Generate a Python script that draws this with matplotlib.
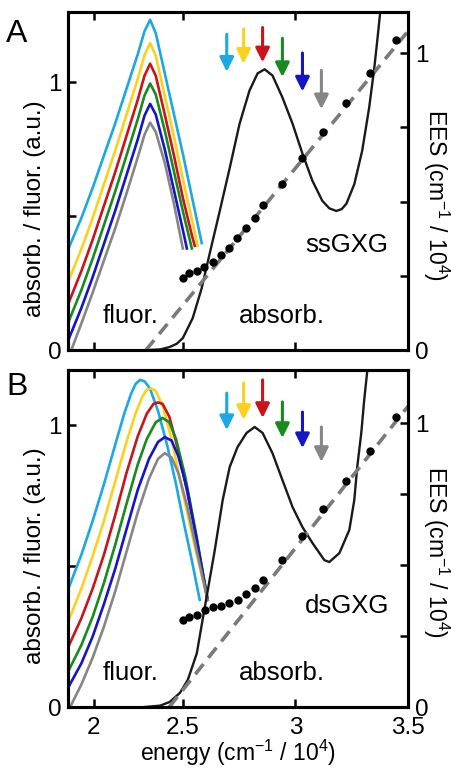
import matplotlib
matplotlib.use('Agg')
import matplotlib.pyplot as plt

plt.rcParams['font.family'] = ['Liberation Sans', 'DejaVu Sans']
plt.rcParams['mathtext.fontset'] = 'custom'
plt.rcParams['mathtext.rm'] = 'Liberation Sans'
plt.rcParams['mathtext.it'] = 'Liberation Sans:italic'

# excitation colours, in the order of the arrows (low -> high excitation energy)
series_colors = ['#1ba8e4', '#fbd11c', '#c8141a', '#198a1e', '#1515c8', '#868686']

# ---------------- panel A : ssGXG ----------------
fluorA_E = [
    [1.99, 2.05, 2.10, 2.15, 2.20, 2.25, 2.30, 2.33, 2.355, 2.38, 2.42, 2.46, 2.50, 2.54, 2.584],
    [1.99, 2.05, 2.10, 2.15, 2.20, 2.25, 2.30, 2.33, 2.355, 2.38, 2.42, 2.46, 2.50, 2.54, 2.566],
    [1.99, 2.05, 2.10, 2.15, 2.20, 2.25, 2.30, 2.33, 2.355, 2.38, 2.42, 2.46, 2.50, 2.54, 2.553],
    [1.99, 2.05, 2.10, 2.15, 2.20, 2.25, 2.30, 2.33, 2.355, 2.38, 2.42, 2.46, 2.50, 2.54],
    [1.99, 2.05, 2.10, 2.15, 2.20, 2.25, 2.30, 2.33, 2.355, 2.38, 2.42, 2.46, 2.50, 2.518],
    [2.005, 2.05, 2.10, 2.15, 2.20, 2.25, 2.30, 2.33, 2.355, 2.38, 2.42, 2.46, 2.50],
]
fluorA_I = [
    [0.374, 0.494, 0.606, 0.727, 0.847, 0.976, 1.105, 1.191, 1.234, 1.184, 1.034, 0.884, 0.734, 0.575, 0.40],
    [0.253, 0.378, 0.494, 0.620, 0.745, 0.879, 1.013, 1.102, 1.147, 1.100, 0.950, 0.800, 0.640, 0.490, 0.39],
    [0.170, 0.296, 0.413, 0.539, 0.665, 0.800, 0.935, 1.025, 1.070, 1.025, 0.880, 0.730, 0.570, 0.430, 0.39],
    [0.100, 0.225, 0.342, 0.467, 0.593, 0.727, 0.862, 0.951, 0.996, 0.955, 0.820, 0.670, 0.520, 0.380],
    [0.034, 0.158, 0.273, 0.397, 0.521, 0.654, 0.787, 0.876, 0.920, 0.880, 0.750, 0.600, 0.450, 0.380],
    [0.000, 0.100, 0.215, 0.335, 0.455, 0.585, 0.720, 0.805, 0.850, 0.815, 0.700, 0.550, 0.380],
]
absA_E = [2.33, 2.40, 2.442, 2.473, 2.50, 2.544, 2.584, 2.619, 2.664, 2.708, 2.752, 2.796,
          2.832, 2.863, 2.898, 2.942, 2.987, 3.031, 3.075, 3.119, 3.150, 3.181, 3.205,
          3.226, 3.261, 3.296, 3.327, 3.350, 3.363, 3.376]
absA_I = [0.0, 0.003, 0.012, 0.024, 0.045, 0.12, 0.232, 0.36, 0.52, 0.68, 0.846, 0.97,
          1.034, 1.049, 1.026, 0.944, 0.846, 0.734, 0.633, 0.558, 0.530, 0.520, 0.527,
          0.547, 0.62, 0.745, 0.906, 1.056, 1.157, 1.262]
eesA_E = [2.50, 2.527, 2.562, 2.593, 2.633, 2.668, 2.704, 2.739, 2.779, 2.819, 2.858,
          2.942, 3.031, 3.124, 3.226, 3.332, 3.447]
eesA_V = [0.242, 0.259, 0.266, 0.279, 0.296, 0.320, 0.343, 0.377, 0.411, 0.444, 0.488,
          0.559, 0.646, 0.734, 0.832, 0.933, 1.044]
fitA_E = [2.336, 3.50]
fitA_V = [0.0, 1.074]
arrowA_tail = [1.18, 1.20, 1.205, 1.165, 1.11, 1.045]
arrowA_tip = [1.04, 1.07, 1.075, 1.02, 0.966, 0.90]

# ---------------- panel B : dsGXG ----------------
fluorB_E = [
    [1.99, 2.05, 2.10, 2.15, 2.20, 2.24, 2.27, 2.29, 2.31, 2.33, 2.354, 2.39, 2.43, 2.47, 2.50, 2.54, 2.575],
    [1.99, 2.05, 2.10, 2.15, 2.20, 2.25, 2.29, 2.32, 2.34, 2.36, 2.38, 2.41, 2.45, 2.50, 2.55, 2.61],
    [1.99, 2.05, 2.10, 2.15, 2.20, 2.25, 2.30, 2.34, 2.37, 2.39, 2.41, 2.44, 2.48, 2.52, 2.56, 2.61],
    [1.99, 2.05, 2.10, 2.15, 2.20, 2.25, 2.30, 2.34, 2.38, 2.41, 2.44, 2.47, 2.51, 2.56, 2.61],
    [1.99, 2.05, 2.10, 2.15, 2.20, 2.25, 2.30, 2.35, 2.39, 2.42, 2.45, 2.48, 2.52, 2.56, 2.61],
    [2.00, 2.05, 2.10, 2.15, 2.20, 2.25, 2.30, 2.35, 2.39, 2.42, 2.45, 2.48, 2.52, 2.56, 2.61],
]
fluorB_I = [
    [0.415, 0.54, 0.66, 0.79, 0.93, 1.04, 1.11, 1.145, 1.16, 1.155, 1.13, 1.05, 0.93, 0.79, 0.67, 0.52, 0.38],
    [0.30, 0.42, 0.535, 0.66, 0.80, 0.94, 1.04, 1.10, 1.125, 1.13, 1.12, 1.07, 0.95, 0.76, 0.58, 0.38],
    [0.21, 0.315, 0.42, 0.54, 0.68, 0.83, 0.96, 1.04, 1.075, 1.08, 1.075, 1.03, 0.91, 0.76, 0.60, 0.38],
    [0.124, 0.22, 0.32, 0.44, 0.575, 0.72, 0.86, 0.95, 1.01, 1.025, 1.01, 0.95, 0.82, 0.61, 0.38],
    [0.067, 0.155, 0.25, 0.365, 0.49, 0.63, 0.77, 0.88, 0.94, 0.957, 0.945, 0.89, 0.77, 0.60, 0.38],
    [0.0, 0.08, 0.175, 0.285, 0.41, 0.55, 0.69, 0.81, 0.88, 0.90, 0.885, 0.83, 0.71, 0.56, 0.38],
]
absB_E = [2.33, 2.40, 2.442, 2.487, 2.522, 2.562, 2.588, 2.611, 2.642, 2.677, 2.708, 2.743,
          2.783, 2.819, 2.854, 2.898, 2.942, 2.987, 3.031, 3.075, 3.128, 3.150, 3.195,
          3.239, 3.261, 3.274, 3.292, 3.305, 3.319]
absB_I = [0.0, 0.005, 0.018, 0.05, 0.096, 0.19, 0.31, 0.415, 0.557, 0.734, 0.851, 0.922,
          0.972, 0.993, 0.972, 0.90, 0.805, 0.709, 0.638, 0.582, 0.521, 0.514, 0.546,
          0.628, 0.734, 0.851, 0.972, 1.089, 1.195]
eesB_E = [2.50, 2.527, 2.562, 2.597, 2.633, 2.668, 2.704, 2.743, 2.779, 2.819, 2.858,
          2.942, 3.031, 3.124, 3.226, 3.332, 3.447]
eesB_V = [0.306, 0.317, 0.324, 0.342, 0.352, 0.356, 0.366, 0.377, 0.398, 0.419, 0.447,
          0.518, 0.602, 0.697, 0.796, 0.901, 1.021]
fitB_E = [2.44, 3.50]
fitB_V = [0.0, 1.06]
arrowB_tail = [1.113, 1.149, 1.16, 1.082, 1.046, 0.993]
arrowB_tip = [0.982, 1.018, 1.025, 0.954, 0.918, 0.869]

# excitation energies marked by the arrows
arrow_E = [2.695, 2.770, 2.854, 2.942, 3.031, 3.115]

# axis ticks
x_ticks = [2.105, 2.5, 3.0, 3.5]
x_ticklabels = ['2', '2.5', '3', '3.5']
xlim = (1.991, 3.496)

FS = 17.5
ees_label = 'EES (cm$^{-1}$ / 10$^{4}$)'


def draw_panel(ax, fl_E, fl_I, ab_E, ab_I, ees_E, ees_V, fit_E, fit_V,
               a_tail, a_tip, ylim_l, ylim_r, name, name_y, letter, letter_y,
               ylab_y, show_xlabels):
    for E, I, c in zip(fl_E, fl_I, series_colors):
        ax.plot(E, I, color=c, lw=1.9, solid_joinstyle='round', zorder=3)
    ax.plot(ab_E, ab_I, color='#1a1a1a', lw=1.7, solid_joinstyle='round', zorder=4)
    for E, t0, t1, c in zip(arrow_E, a_tail, a_tip, series_colors):
        ax.annotate('', xy=(E, t1), xytext=(E, t0),
                    arrowprops=dict(arrowstyle='-|>,head_length=0.85,head_width=0.42',
                                    mutation_scale=10, lw=2.2, color=c,
                                    shrinkA=0, shrinkB=0), zorder=5)
    ax.set_xlim(*xlim)
    ax.set_ylim(*ylim_l)
    ax.set_xticks(x_ticks)
    if show_xlabels:
        ax.set_xticklabels(x_ticklabels)
    else:
        ax.set_xticklabels([])
    ax.set_yticks([0, 0.5, 1])
    ax.set_yticklabels(['0', '', '1'])
    ax.tick_params(direction='in', length=6, width=1.8, labelsize=FS,
                   top=True, pad=5)
    ax.tick_params(axis='x', pad=7)
    for s in ax.spines.values():
        s.set_linewidth(2.2)
    ax.set_ylabel('absorb. / fluor. (a.u.)', fontsize=FS, va='center')
    ax.yaxis.set_label_coords(-0.097, ylab_y)

    tw = ax.twinx()
    tw.plot(fit_E, fit_V, color='#7a7a7a', lw=2.6, dashes=(3.6, 2.2), zorder=2)
    tw.plot(ees_E, ees_V, 'o', color='black', ms=5, zorder=3)
    tw.set_ylim(*ylim_r)
    tw.set_yticks([0, 0.25, 0.5, 0.75, 1])
    tw.set_yticklabels(['0', '', '', '', '1'])
    tw.tick_params(direction='in', length=6, width=1.8, labelsize=FS, pad=5)
    for s in tw.spines.values():
        s.set_linewidth(2.2)
    tw.set_ylabel(ees_label, fontsize=16.5, rotation=270, va='center', ha='center')
    tw.yaxis.set_label_coords(1.083, 0.46)

    ax.text(0.82, name_y, name, transform=ax.transAxes,
            fontsize=FS + 1, ha='center', va='center')
    ax.text(0.63, 0.10, 'absorb.', transform=ax.transAxes,
            fontsize=FS + 1, ha='center', va='center')
    ax.text(0.185, 0.10, 'fluor.', transform=ax.transAxes,
            fontsize=FS + 1, ha='center', va='center')
    ax.text(-0.15, letter_y, letter, transform=ax.transAxes,
            fontsize=23, ha='center', va='center')


fig = plt.figure(figsize=(4.51, 7.68), dpi=100)
axA = fig.add_axes([0.151, 0.544, 0.754, 0.44])
axB = fig.add_axes([0.151, 0.0794, 0.754, 0.4388])

draw_panel(axA, fluorA_E, fluorA_I, absA_E, absA_I, eesA_E, eesA_V, fitA_E, fitA_V,
           arrowA_tail, arrowA_tip, (0, 1.262), (0, 1.137), 'ssGXG', 0.31, 'A', 0.935,
           0.42, False)
draw_panel(axB, fluorB_E, fluorB_I, absB_E, absB_I, eesB_E, eesB_V, fitB_E, fitB_V,
           arrowB_tail, arrowB_tip, (0, 1.195), (0, 1.187), 'dsGXG', 0.30, 'B', 0.95,
           0.45, True)
fig.text(0.151 + 0.754 / 2, 0.009, 'energy (cm$^{-1}$ / 10$^{4}$)',
         fontsize=16.5, ha='center', va='baseline')

fig.savefig('out.png', dpi=100)
